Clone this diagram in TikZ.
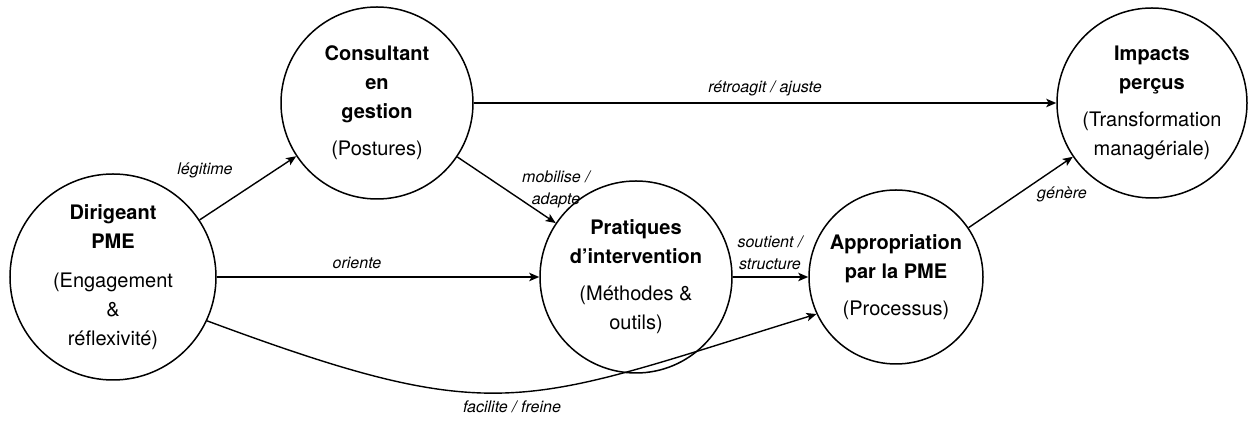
\documentclass[tikz,border=0pt]{standalone}
\usepackage{fontspec}
\setmainfont{TeX Gyre Heros}
\usetikzlibrary{arrows.meta}
\begin{document}
\begin{tikzpicture}[x=0.5pt,y=0.5pt,
  concept/.style={circle,draw,line width=0.75pt,inner sep=0pt,align=center,
    font=\fontsize{10}{14.5}\selectfont},
  link/.style={line width=0.7pt,-{Stealth[length=5pt,width=4.2pt,inset=1.2pt]}},
  lbl/.style={font=\fontsize{8}{11}\selectfont\itshape,align=center,inner sep=1pt}]
\useasboundingbox (0,0) rectangle (1248,422);
\node[concept,minimum size=103pt] (D) at (113,145)
  {\textbf{Dirigeant}\\\textbf{PME}\\[5pt](Engagement\\\&\\réflexivité)};
\node[concept,minimum size=96pt] (C) at (377,319)
  {\textbf{Consultant}\\\textbf{en}\\\textbf{gestion}\\[4pt](Postures)};
\node[concept,minimum size=96pt] (P) at (636,145)
  {\textbf{Pratiques}\\\textbf{d’intervention}\\[4pt](Méthodes \&\\outils)};
\node[concept,minimum size=87pt] (A) at (896,145)
  {\textbf{Appropriation}\\\textbf{par la PME}\\[4pt](Processus)};
\node[concept,minimum size=95pt] (I) at (1152,319)
  {\textbf{Impacts}\\\textbf{perçus}\\[4pt](Transformation\\managériale)};

\draw[link] (D) -- (C) node[lbl] at (205,252) {légitime};
\draw[link] (C) -- (I) node[lbl] at (765,334) {rétroagit / ajuste};
\draw[link] (C) -- (P) node[lbl] at (556,233) {mobilise /\\adapte};
\draw[link] (D) -- (P) node[lbl] at (357,159) {oriente};
\draw[link] (P) -- (A) node[lbl] at (770,169) {soutient /\\structure};
\draw[link] (D.-25) .. controls (501,-8) and (521,17) .. (A.205);
\node[lbl] (f) at (512,15) {facilite / freine};
\draw[link] (A) -- (I) node[lbl] at (1062,228) {génère};
\end{tikzpicture}
\end{document}
